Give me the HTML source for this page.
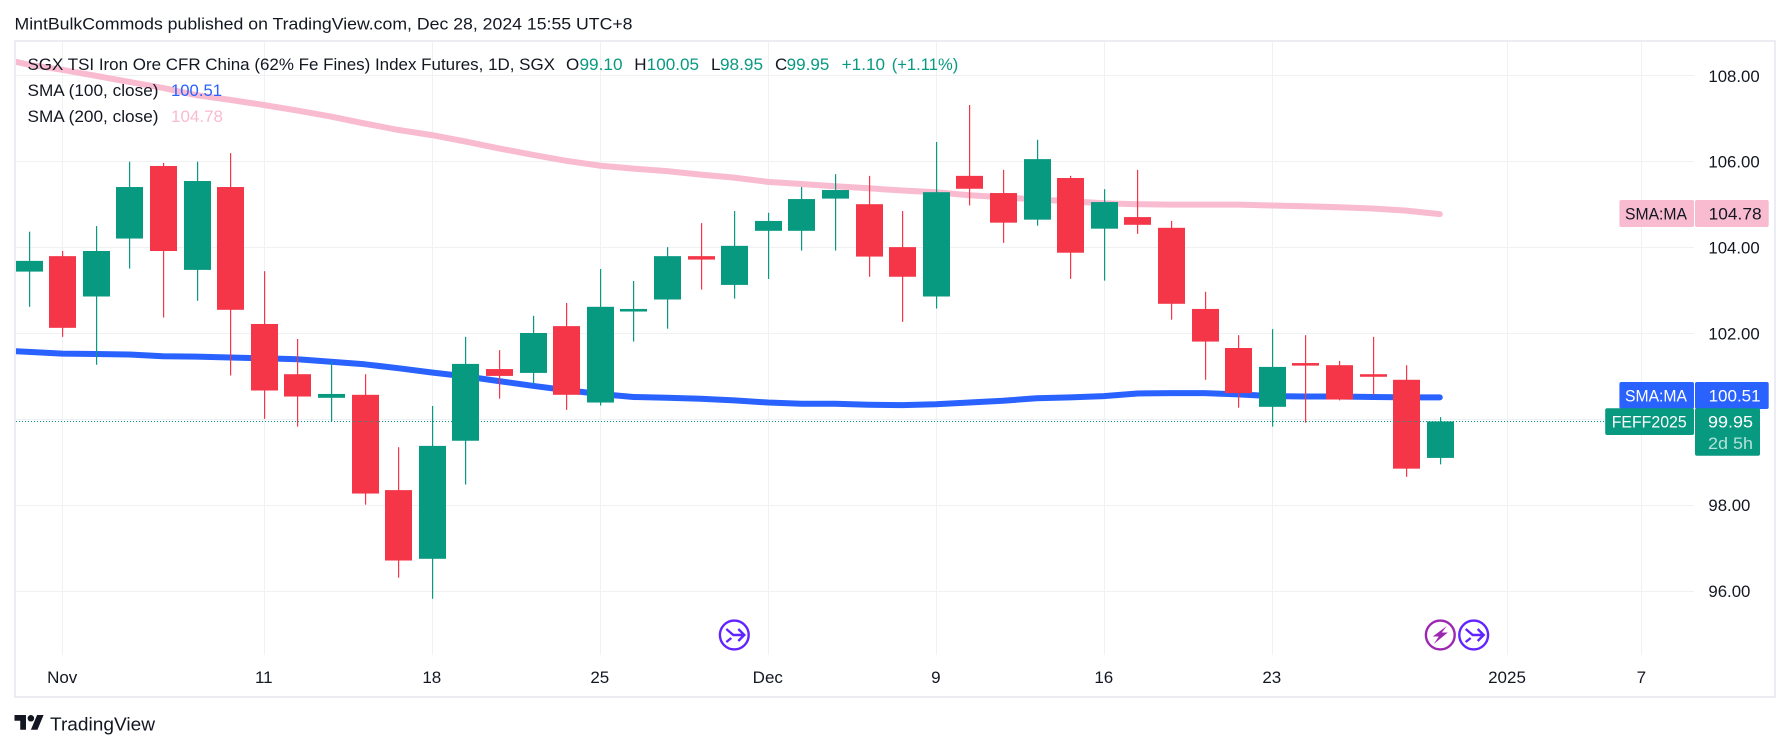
<!DOCTYPE html>
<html lang="en">
<head>
<meta charset="utf-8">
<title>SGX TSI Iron Ore CFR China Index Futures chart</title>
<style>
html,body{margin:0;padding:0;background:#fff;width:1790px;height:750px;overflow:hidden}
svg{display:block}
text{font-family:"Liberation Sans",sans-serif;font-size:17px;fill:#131722}
</style>
</head>
<body>
<svg id="chart" xmlns="http://www.w3.org/2000/svg" width="1790" height="750" viewBox="0 0 1790 750">
  <defs>
    <clipPath id="plot-clip"><rect x="16" y="42" width="1678" height="613"/></clipPath>
  </defs>
  <rect x="0" y="0" width="1790" height="750" fill="#ffffff"/>
  <text x="14.5" y="29.3" textLength="618" lengthAdjust="spacingAndGlyphs" style="font-size:17px">MintBulkCommods published on TradingView.com, Dec 28, 2024 15:55 UTC+8</text>

  <g id="grid"></g>
  <g id="sma-lines" clip-path="url(#plot-clip)"></g>
  <g id="candles" clip-path="url(#plot-clip)"></g>
  <g id="last-price"></g>
  <rect x="15" y="41" width="1760" height="656" fill="none" stroke="#ecedf2" stroke-width="2"/>

  <g>
    <text x="27.5" y="70" textLength="527.5" lengthAdjust="spacingAndGlyphs">SGX TSI Iron Ore CFR China (62% Fe Fines) Index Futures, 1D, SGX</text>
    <text x="566" y="70">O</text>
    <text x="579.5" y="70" textLength="43" lengthAdjust="spacingAndGlyphs" style="fill:#089981">99.10</text>
    <text x="634.3" y="70">H</text>
    <text x="646.7" y="70" textLength="52.3" lengthAdjust="spacingAndGlyphs" style="fill:#089981">100.05</text>
    <text x="711" y="70">L</text>
    <text x="720" y="70" textLength="43" lengthAdjust="spacingAndGlyphs" style="fill:#089981">98.95</text>
    <text x="775" y="70">C</text>
    <text x="786.7" y="70" textLength="42.6" lengthAdjust="spacingAndGlyphs" style="fill:#089981">99.95</text>
    <text x="841.7" y="70" textLength="43.3" lengthAdjust="spacingAndGlyphs" style="fill:#089981">+1.10</text>
    <text x="891.7" y="70" textLength="66.6" lengthAdjust="spacingAndGlyphs" style="fill:#089981">(+1.11%)</text>
    <text x="27.5" y="96" textLength="131" lengthAdjust="spacingAndGlyphs">SMA (100, close)</text>
    <text x="171" y="96" textLength="51" lengthAdjust="spacingAndGlyphs" style="fill:#2962ff">100.51</text>
    <text x="27.5" y="122" textLength="131" lengthAdjust="spacingAndGlyphs">SMA (200, close)</text>
    <text x="171" y="122" textLength="52" lengthAdjust="spacingAndGlyphs" style="fill:#f8bbd0">104.78</text>
  </g>

  <g id="price-axis"></g>
  <g id="time-axis"></g>

  <g>
    <rect x="1619.4" y="200" width="74.6" height="27" rx="2" fill="#f8bbd0"/>
    <rect x="1695" y="200" width="73.7" height="27" rx="2" fill="#f8bbd0"/>
    <text x="1625" y="219.5" textLength="62" lengthAdjust="spacingAndGlyphs">SMA:MA</text>
    <text x="1708.6" y="219.5" textLength="53" lengthAdjust="spacingAndGlyphs">104.78</text>
  </g>
  <g>
    <rect x="1619.4" y="382" width="74.6" height="27" rx="2" fill="#2962ff"/>
    <rect x="1695" y="382" width="73.7" height="27" rx="2" fill="#2962ff"/>
    <text x="1625" y="401.5" textLength="62" lengthAdjust="spacingAndGlyphs" style="fill:#fff">SMA:MA</text>
    <text x="1708.6" y="401.5" textLength="52" lengthAdjust="spacingAndGlyphs" style="fill:#fff">100.51</text>
  </g>
  <g>
    <rect x="1605.2" y="408.3" width="88.8" height="26.7" rx="2" fill="#089981"/>
    <rect x="1695" y="408.3" width="65" height="47.4" rx="2" fill="#089981"/>
    <text x="1611.7" y="427.5" textLength="75" lengthAdjust="spacingAndGlyphs" style="fill:#fff">FEFF2025</text>
    <text x="1708" y="427.5" textLength="45" lengthAdjust="spacingAndGlyphs" style="fill:#fff">99.95</text>
    <text x="1708" y="449" textLength="45" lengthAdjust="spacingAndGlyphs" style="fill:#fff;fill-opacity:.7">2d 5h</text>
  </g>

  <g>
    <g transform="translate(734.3,635)" fill="none" stroke="#6123ff" stroke-width="2.4">
      <circle r="14.4" fill="#fff"/>
      <path d="M-8,-6 L-1,0 H10 M4,-6 L10,0 L4,6 M-8,7 L-3,3"/>
    </g>
    <g transform="translate(1440.3,635)">
      <circle r="14.4" fill="#fff" stroke="#9c27b0" stroke-width="2.4"/>
      <polygon points="6.5,-9 -7.5,1.5 -1.5,1.5 -6.5,9 7.5,-2.5 1.5,-2.5" fill="#9c27b0"/>
    </g>
    <g transform="translate(1473.7,635)" fill="none" stroke="#6123ff" stroke-width="2.4">
      <circle r="14.4" fill="#fff"/>
      <path d="M-8,-6 L-1,0 H10 M4,-6 L10,0 L4,6 M-8,7 L-3,3"/>
    </g>
  </g>

  <g>
    <g transform="translate(14.5,711.7) scale(0.82)" fill="#131722">
      <path d="M14 22H7V11H0V4h14v18zM28 22h-8l7.5-18h8L28 22z"/>
      <circle cx="20" cy="8" r="4"/>
    </g>
    <text x="50" y="730.7" textLength="105" lengthAdjust="spacingAndGlyphs" style="font-size:18.5px">TradingView</text>
  </g>
</svg>

<script>
const dates = ['Oct 31','Nov 1','Nov 4','Nov 5','Nov 6','Nov 7','Nov 8','Nov 11','Nov 12','Nov 13','Nov 14','Nov 15','Nov 18','Nov 19','Nov 20','Nov 21','Nov 22','Nov 25','Nov 26','Nov 27','Nov 28','Nov 29','Dec 2','Dec 3','Dec 4','Dec 5','Dec 6','Dec 9','Dec 10','Dec 11','Dec 12','Dec 13','Dec 16','Dec 17','Dec 18','Dec 19','Dec 20','Dec 23','Dec 24','Dec 25','Dec 26','Dec 27','Dec 30'];
const futureDates = ['Dec 31','Jan 1','Jan 2','Jan 3','Jan 6','Jan 7'];
const opens  = [103.44,103.80,102.86,104.21,105.90,103.48,105.41,102.22,101.05,100.50,100.57,98.35,96.75,99.50,101.17,101.08,102.17,100.39,102.51,102.79,103.80,103.13,104.39,104.39,105.14,105.01,104.01,102.86,105.67,105.27,104.65,105.62,104.44,104.71,104.46,102.57,101.66,100.29,101.31,101.26,101.05,100.92,99.10];
const highs  = [104.37,103.92,104.50,106.00,105.97,106.00,106.20,103.45,101.87,101.34,101.05,99.35,100.31,101.92,101.61,102.41,102.71,103.50,103.22,104.01,104.57,104.85,104.81,105.41,105.71,105.67,104.85,106.46,107.32,105.81,106.51,105.67,105.36,105.81,104.62,102.97,101.96,102.10,101.96,101.36,101.92,101.26,100.05];
const lows   = [102.62,101.92,101.27,103.51,102.37,102.76,101.02,100.01,99.83,99.96,98.01,96.31,95.82,98.48,100.48,100.82,100.22,100.32,101.81,102.11,103.02,102.81,103.27,103.93,103.93,103.32,102.27,102.58,104.98,104.11,104.51,103.27,103.23,104.32,102.32,100.92,100.27,99.83,99.92,100.44,100.57,98.66,98.95];
const closes = [103.69,102.13,103.92,105.41,103.92,105.55,102.55,100.67,100.53,100.59,98.27,96.71,99.38,101.29,101.01,102.01,100.57,102.62,102.57,103.80,103.72,104.04,104.62,105.13,105.34,103.79,103.32,105.29,105.37,104.58,106.06,103.88,105.06,104.53,102.69,101.81,100.61,101.22,101.25,100.46,100.99,98.85,99.95];
const sma100LeadIn = 101.61;
const sma100 = [101.57,101.53,101.52,101.51,101.47,101.46,101.44,101.42,101.40,101.34,101.28,101.19,101.09,101.00,100.89,100.78,100.68,100.59,100.52,100.50,100.48,100.44,100.39,100.36,100.36,100.34,100.33,100.35,100.39,100.43,100.49,100.51,100.54,100.60,100.61,100.61,100.58,100.54,100.53,100.53,100.52,100.51,100.51];
const sma200LeadIn = 108.44;
const sma200 = [108.26,108.14,108.00,107.86,107.72,107.55,107.44,107.32,107.19,107.05,106.89,106.74,106.62,106.47,106.31,106.16,106.02,105.91,105.84,105.78,105.70,105.63,105.53,105.48,105.43,105.38,105.33,105.29,105.22,105.17,105.12,105.08,105.03,105.01,105.00,105.00,105.00,104.98,104.96,104.94,104.91,104.86,104.78];
const priceTicks = [108,106,104,102,100,98,96];
const timeTickDates = ['Nov 1','Nov 11','Nov 18','Nov 25','Dec 2','Dec 9','Dec 16','Dec 23','Jan 1','Jan 7'];
const timeTickLabels = ['Nov','11','18','25','Dec','9','16','23','2025','7'];
const lastClose = 99.95;

const NS = 'http://www.w3.org/2000/svg';
const allDates = dates.concat(futureDates);
function xOf(i){ return 28.6 + 33.6 * i; }
function yOf(p){ return 161.7 + (106 - p) * 42.93; }
function make(tag){ return document.createElementNS(NS, tag); }

const gridG = document.getElementById('grid');
const priceAxisG = document.getElementById('price-axis');
const timeAxisG = document.getElementById('time-axis');

priceTicks.forEach(function(p){
  const y = Math.floor(yOf(p)) + 0.5;
  const line = make('line');
  
  
  line.setAttribute('x1', 16);
  line.setAttribute('x2', 1694);
  line.setAttribute('y1', y);
  line.setAttribute('y2', y);
  line.setAttribute('stroke', '#f0f1f4');
  gridG.appendChild(line);
  const label = make('text');
  
  
  label.setAttribute('x', 1708.4);
  label.setAttribute('y', yOf(p) + 6);
  label.setAttribute('style', 'font-size:16.8px');
  label.textContent = p.toFixed(2);
  priceAxisG.appendChild(label);
});

timeTickDates.forEach(function(d, k){
  const i = allDates.indexOf(d);
  const x = Math.round(xOf(i)) + 0.5;
  const line = make('line');
  
  
  line.setAttribute('x1', x);
  line.setAttribute('x2', x);
  line.setAttribute('y1', 42);
  line.setAttribute('y2', 655);
  line.setAttribute('stroke', '#f0f1f4');
  gridG.appendChild(line);
  const label = make('text');
  
  
  label.setAttribute('x', xOf(i));
  label.setAttribute('y', 683);
  label.setAttribute('text-anchor', 'middle');
  label.textContent = timeTickLabels[k];
  timeAxisG.appendChild(label);
});

function smaPoints(leadIn, values){
  const pts = [xOf(-1).toFixed(1) + ',' + yOf(leadIn).toFixed(1)];
  values.forEach(function(v, i){
    pts.push(xOf(i).toFixed(1) + ',' + yOf(v).toFixed(1));
  });
  return pts.join(' ');
}
const smaG = document.getElementById('sma-lines');
const line200 = make('polyline');


line200.setAttribute('points', smaPoints(sma200LeadIn, sma200));
line200.setAttribute('fill', 'none');
line200.setAttribute('stroke', '#f8bbd0');
line200.setAttribute('stroke-width', '6');
line200.setAttribute('stroke-linecap', 'round');
line200.setAttribute('stroke-linejoin', 'round');
smaG.appendChild(line200);
const line100 = make('polyline');


line100.setAttribute('points', smaPoints(sma100LeadIn, sma100));
line100.setAttribute('fill', 'none');
line100.setAttribute('stroke', '#2962ff');
line100.setAttribute('stroke-width', '6');
line100.setAttribute('stroke-linecap', 'round');
line100.setAttribute('stroke-linejoin', 'round');
smaG.appendChild(line100);

const candleG = document.getElementById('candles');
dates.forEach(function(d, i){
  const up = closes[i] >= opens[i];
  const color = up ? '#089981' : '#f43648';
  const xc = xOf(i);
  const bodyTop = yOf(Math.max(opens[i], closes[i]));
  const bodyBottom = yOf(Math.min(opens[i], closes[i]));
  const wick = make('rect');
  
  
  wick.setAttribute('x', Math.round(xc));
  wick.setAttribute('y', yOf(highs[i]));
  wick.setAttribute('width', 1.2);
  wick.setAttribute('height', yOf(lows[i]) - yOf(highs[i]));
  wick.setAttribute('fill', color);
  candleG.appendChild(wick);
  const body = make('rect');
  
  
  body.setAttribute('x', Math.round(xc - 13));
  body.setAttribute('y', bodyTop);
  body.setAttribute('width', 27);
  body.setAttribute('height', Math.max(bodyBottom - bodyTop, 1));
  body.setAttribute('fill', color);
  candleG.appendChild(body);
});

const lastG = document.getElementById('last-price');
const lastLine = make('line');


lastLine.setAttribute('x1', 16);
lastLine.setAttribute('x2', 1605);
lastLine.setAttribute('y1', Math.floor(yOf(lastClose)) + 0.5);
lastLine.setAttribute('y2', Math.floor(yOf(lastClose)) + 0.5);
lastLine.setAttribute('stroke', '#089981');
lastLine.setAttribute('stroke-width', '1');
lastLine.setAttribute('stroke-dasharray', '1 2');
lastG.appendChild(lastLine);
</script>
</body>
</html>
